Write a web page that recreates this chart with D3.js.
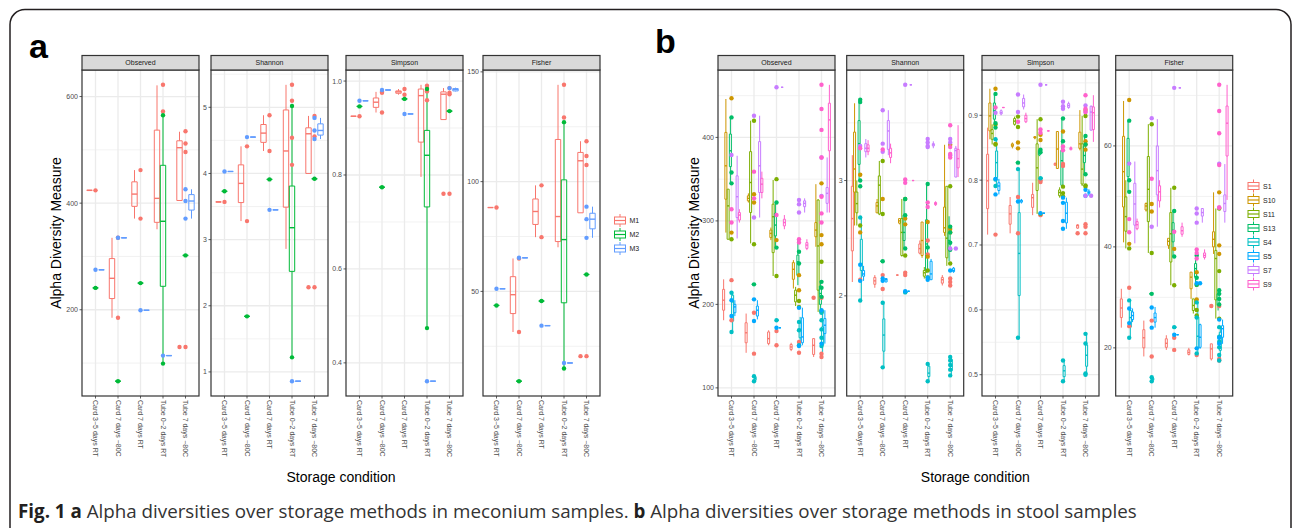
<!DOCTYPE html>
<html>
<head>
<meta charset="utf-8">
<script src="https://cdn.jsdelivr.net/npm/d3@7"></script>
<style>
  body { margin: 0; background: #fff; }
  svg { display: block; }
  text { font-family: "Liberation Sans", Arial, sans-serif; }
</style>
</head>
<body>
<svg id="chart" width="1292" height="528"></svg>
<script>
const categories = ["Card 3\u22125 days RT", "Card 7 days \u221280C", "Card 7 days RT", "Tube 0\u22122 days RT", "Tube 7 days \u221280C"];
const metrics = ["Observed", "Shannon", "Simpson", "Fisher"];

const mecGroups = ["M1", "M2", "M3"];
const mecColors = ["#F8766D", "#00BA38", "#619CFF"];
const stoolGroups = ["S1", "S10", "S11", "S13", "S4", "S5", "S7", "S9"];
const stoolColors = ["#F8766D", "#CD9600", "#7CAE00", "#00BE67", "#00BFC4", "#00A9FF", "#C77CFF", "#FF61CC"];

const mecTicks = [[200, 400, 600], [1, 2, 3, 4, 5], [0.4, 0.6, 0.8, 1.0], [50, 100, 150]];
const stoolTicks = [[100, 200, 300, 400], [2, 3], [0.5, 0.6, 0.7, 0.8, 0.9], [20, 40, 60]];

// box rows: [category, group, lower whisker, q1, median, q3, upper whisker, ...outliers]
// a row with a single value is a group with one sample
// point rows: [category, group, ...values]

// ---- meconium (a)
const mecObservedBox = [
  [0, "M1", 424], [0, "M2", 241], [0, "M3", 275],
  [1, "M1", 185, 221, 259, 296, 335], [1, "M2", 66], [1, "M3", 335],
  [2, "M1", 371, 394, 417, 440, 462], [2, "M2", 250], [2, "M3", 199],
  [3, "M1", 351, 364, 409, 537, 621], [3, "M2", 99, 244, 366, 471, 565], [3, "M3", 114],
  [4, "M1", 405, 405, 504, 517, 534, 130], [4, "M2", 302], [4, "M3", 371, 387, 404, 416, 426]
];
const mecObservedPts = [
  [0, "M1", 424], [0, "M2", 241], [0, "M3", 275],
  [1, "M1", 335, 185], [1, "M2", 66], [1, "M3", 335],
  [2, "M1", 462, 371], [2, "M2", 250], [2, "M3", 199],
  [3, "M1", 622, 572], [3, "M2", 565, 99], [3, "M3", 114],
  [4, "M1", 535, 512, 496, 130], [4, "M2", 302], [4, "M3", 426, 404, 371]
];
const mecShannonBox = [
  [0, "M1", 3.57], [0, "M2", 3.73], [0, "M3", 4.03],
  [1, "M1", 3.28, 3.56, 3.85, 4.13, 4.41], [1, "M2", 1.84], [1, "M3", 4.55],
  [2, "M1", 4.34, 4.47, 4.61, 4.74, 4.88], [2, "M2", 3.91], [2, "M3", 3.45],
  [3, "M1", 2.86, 3.49, 4.34, 4.96, 5.34], [3, "M2", 1.22, 2.52, 3.18, 3.81, 5.02], [3, "M3", 0.86],
  [4, "M1", 4.0, 4.0, 4.60, 4.69, 4.87, 2.28], [4, "M2", 3.92], [4, "M3", 4.52, 4.58, 4.65, 4.75, 4.84]
];
const mecShannonPts = [
  [0, "M1", 3.57], [0, "M2", 3.73], [0, "M3", 4.03],
  [1, "M1", 4.41, 3.28], [1, "M2", 1.84], [1, "M3", 4.55],
  [2, "M1", 4.88, 4.34], [2, "M2", 3.91], [2, "M3", 3.45],
  [3, "M1", 5.34, 5.10, 4.54, 4.13], [3, "M2", 5.02, 1.22], [3, "M3", 0.86],
  [4, "M1", 4.87, 4.56, 2.28], [4, "M2", 3.92], [4, "M3", 4.84, 4.65, 4.52]
];
const mecSimpsonBox = [
  [0, "M1", 0.925], [0, "M2", 0.946], [0, "M3", 0.958],
  [1, "M1", 0.933, 0.944, 0.955, 0.964, 0.977], [1, "M2", 0.774], [1, "M3", 0.981],
  [2, "M1", 0.971, 0.974, 0.977, 0.979, 0.983], [2, "M2", 0.962], [2, "M3", 0.930],
  [3, "M1", 0.796, 0.870, 0.969, 0.983, 0.992], [3, "M2", 0.474, 0.732, 0.842, 0.895, 0.983], [3, "M3", 0.361],
  [4, "M1", 0.918, 0.918, 0.972, 0.977, 0.985, 0.760], [4, "M2", 0.936], [4, "M3", 0.978, 0.979, 0.982, 0.984, 0.986]
];
const mecSimpsonPts = [
  [0, "M1", 0.925], [0, "M2", 0.946], [0, "M3", 0.958],
  [1, "M1", 0.977, 0.975, 0.933], [1, "M2", 0.774], [1, "M3", 0.981],
  [2, "M1", 0.983, 0.971], [2, "M2", 0.962], [2, "M3", 0.930],
  [3, "M1", 0.990, 0.985, 0.978, 0.959], [3, "M2", 0.983, 0.474], [3, "M3", 0.361],
  [4, "M1", 0.985, 0.975, 0.972, 0.760], [4, "M2", 0.936], [4, "M3", 0.985]
];
const mecFisherBox = [
  [0, "M1", 88.2], [0, "M2", 43.6], [0, "M3", 51.2],
  [1, "M1", 31.5, 39.9, 48.5, 56.7, 65.0], [1, "M2", 9.1], [1, "M3", 65.3],
  [2, "M1", 74.7, 80.5, 86.4, 92.1, 98.3], [2, "M2", 45.6], [2, "M3", 34.4],
  [3, "M1", 70.1, 72.7, 84.1, 119.2, 144.1], [3, "M2", 14.9, 44.8, 73.6, 100.8, 127.1], [3, "M3", 17.4],
  [4, "M1", 85.8, 85.8, 109.5, 113.3, 118.4, 20.5], [4, "M2", 57.7], [4, "M3", 74.4, 78.5, 82.9, 85.6, 88.6]
];
const mecFisherPts = [
  [0, "M1", 88.2], [0, "M2", 43.6], [0, "M3", 51.2],
  [1, "M1", 65.0, 31.5], [1, "M2", 9.1], [1, "M3", 65.3],
  [2, "M1", 98.3, 74.7], [2, "M2", 45.6], [2, "M3", 34.4],
  [3, "M1", 144.1, 129.2], [3, "M2", 127.1, 14.9], [3, "M3", 17.4],
  [4, "M1", 118.4, 111.7, 107.6, 20.5], [4, "M2", 57.7], [4, "M3", 88.6, 82.9, 74.4]
];

// ---- stool (b)
const stoolObservedBox = [
  [0, "S1", 181, 193, 205, 218, 230], [0, "S10", 286, 326, 366, 406, 446], [0, "S11", 278, 278, 318, 338, 338],
  [0, "S13", 345, 365, 384, 404, 424], [0, "S4", 167, 180, 203, 211, 215], [0, "S5", 186, 190, 197, 200, 205],
  [0, "S7", 279, 304, 329, 354, 378], [0, "S9", 298, 301, 307, 310, 314],
  [1, "S1", 142, 154, 166, 178, 189], [1, "S10", 322, 324, 327, 330, 333], [1, "S11", 273, 310, 346, 383, 420],
  [1, "S13", 224], [1, "S4", 108, 109, 111, 113, 114], [1, "S5", 182, 186, 193, 198, 205],
  [1, "S7", 304, 334, 366, 395, 426], [1, "S9", 327, 334, 344, 351, 359],
  [2, "S1", 151, 153, 159, 167, 169], [2, "S10", 277, 280, 285, 289, 292], [2, "S11", 234, 262, 305, 320, 349],
  [2, "S13", 268, 282, 295, 309, 322], [2, "S4", 181], [2, "S5", 172], [2, "S7", 460], [2, "S9", 290, 294, 298, 302, 307],
  [3, "S1", 144, 146, 149, 152, 154], [3, "S10", 219, 230, 242, 250, 253], [3, "S11", 198, 203, 211, 217, 221],
  [3, "S13", 223, 235, 251, 259, 277], [3, "S4", 150, 160, 170, 178, 185], [3, "S5", 151, 154, 161, 184, 196],
  [3, "S7", 310, 317, 321, 324, 327], [3, "S9", 265, 267, 271, 274, 278],
  [4, "S1", 137, 140, 151, 159, 159, 208], [4, "S10", 269, 281, 289, 298, 344], [4, "S11", 191, 217, 270, 325, 326],
  [4, "S13", 190, 200, 213, 222, 227], [4, "S4", 143, 151, 159, 173, 191], [4, "S5", 153, 165, 175, 183, 193],
  [4, "S7", 310, 321, 333, 340, 376], [4, "S9", 310, 384, 421, 441, 463]
];
const stoolObservedPts = [
  [0, "S1", 229, 181], [0, "S10", 447, 286], [0, "S11", 278], [0, "S13", 424, 358, 345], [0, "S4", 214, 167],
  [0, "S5", 205, 186], [0, "S7", 379], [0, "S9", 314, 298],
  [1, "S1", 190, 141], [1, "S10", 332, 322], [1, "S11", 420, 272], [1, "S13", 224], [1, "S4", 114, 108],
  [1, "S5", 206, 180], [1, "S7", 426, 304], [1, "S9", 359, 327],
  [2, "S1", 168, 151], [2, "S10", 277], [2, "S11", 350, 234], [2, "S13", 322, 268], [2, "S4", 181],
  [2, "S5", 172], [2, "S7", 460], [2, "S9", 307],
  [3, "S1", 155, 142], [3, "S10", 235, 217], [3, "S11", 204, 197], [3, "S13", 263, 249], [3, "S4", 179, 169, 151],
  [3, "S5", 196, 150], [3, "S7", 325, 320, 310], [3, "S9", 278, 274],
  [4, "S1", 208, 141, 137], [4, "S10", 345, 283, 272], [4, "S11", 251, 191], [4, "S13", 227, 220, 209, 192],
  [4, "S4", 190, 181, 170, 160, 150], [4, "S5", 193, 153], [4, "S7", 376, 330], [4, "S9", 463, 434, 409, 376, 329, 309, 298]
];
const stoolShannonBox = [
  [0, "S1", 2.12, 2.39, 2.67, 2.95, 3.22], [0, "S10", 2.61, 2.90, 3.10, 3.42, 3.67], [0, "S11", 2.61, 2.72, 2.80, 2.90, 3.00],
  [0, "S13", 3.00, 3.14, 3.32, 3.52, 3.70], [0, "S4", 1.96, 2.22, 2.28, 2.49, 2.68], [0, "S5", 2.13, 2.17, 2.19, 2.22, 2.26],
  [0, "S7", 3.20, 3.25, 3.28, 3.32, 3.36], [0, "S9", 3.22, 3.25, 3.28, 3.31, 3.35],
  [1, "S1", 2.07, 2.10, 2.13, 2.16, 2.18], [1, "S10", 2.72, 2.72, 2.78, 2.81, 2.84], [1, "S11", 2.70, 2.71, 2.96, 3.04, 3.17],
  [1, "S13", 2.30], [1, "S4", 1.38, 1.52, 1.66, 1.80, 1.94], [1, "S5", 2.12, 2.12, 2.14, 2.15, 2.15],
  [1, "S7", 3.22, 3.27, 3.43, 3.52, 3.61], [1, "S9", 3.15, 3.20, 3.24, 3.28, 3.32],
  [2, "S1", 2.18], [2, "S10", 2.62, 2.63, 2.65, 2.67, 2.67], [2, "S11", 2.34, 2.35, 2.55, 2.67, 2.84],
  [2, "S13", 2.41, 2.48, 2.55, 2.70, 2.84], [2, "S4", 2.03], [2, "S5", 2.04], [2, "S7", 3.83], [2, "S9", 3.00],
  [3, "S1", 2.36, 2.37, 2.41, 2.45, 2.48], [3, "S10", 2.33, 2.35, 2.48, 2.64, 2.64], [3, "S11", 2.15, 2.17, 2.20, 2.22, 2.25],
  [3, "S13", 2.20, 2.22, 2.45, 2.66, 2.97], [3, "S4", 1.26, 1.30, 1.33, 1.39, 1.41], [3, "S5", 2.14, 2.14, 2.19, 2.30, 2.32],
  [3, "S7", 3.28, 3.30, 3.31, 3.32, 3.34], [3, "S9", 2.78, 2.79, 2.80, 2.81, 2.82],
  [4, "S1", 2.09, 2.11, 2.14, 2.16, 2.18], [4, "S10", 2.52, 2.55, 2.59, 2.77, 3.31], [4, "S11", 2.26, 2.33, 2.50, 2.95, 2.95],
  [4, "S13", 2.30, 2.40, 2.48, 2.55, 2.69], [4, "S4", 1.30, 1.35, 1.39, 1.45, 1.47], [4, "S5", 2.20, 2.21, 2.22, 2.24, 2.25],
  [4, "S7", 3.03, 3.03, 3.26, 3.28, 3.30, 2.41], [4, "S9", 3.03, 3.11, 3.19, 3.27, 3.48]
];
const stoolShannonPts = [
  [0, "S1", 2.14], [0, "S10", 3.05, 2.55], [0, "S11", 2.61], [0, "S13", 3.70, 3.68, 3.00, 2.95], [0, "S4", 2.68, 1.96],
  [0, "S5", 2.27, 2.13], [0, "S7", 3.30], [0, "S9", 3.28],
  [1, "S1", 2.18, 2.06], [1, "S10", 2.84], [1, "S11", 3.17, 2.71], [1, "S13", 2.30], [1, "S4", 1.94, 1.38],
  [1, "S5", 2.15, 2.13], [1, "S7", 3.61, 3.32, 3.25], [1, "S9", 3.27],
  [2, "S1", 2.18, 2.20], [2, "S10", 2.67, 2.62], [2, "S11", 2.84, 2.35], [2, "S13", 2.84, 2.70, 2.41], [2, "S4", 2.03],
  [2, "S5", 2.04], [2, "S7", 3.83], [2, "S9", 3.01, 2.98],
  [3, "S1", 2.48, 2.36], [3, "S10", 2.64, 2.34], [3, "S11", 2.22, 2.16], [3, "S13", 2.97, 2.42], [3, "S4", 1.41, 1.26],
  [3, "S5", 2.16, 2.14], [3, "S7", 3.36, 3.33, 3.30, 3.29], [3, "S9", 2.81, 2.77],
  [4, "S1", 2.15, 2.12, 2.09], [4, "S10", 3.31, 2.58, 2.55], [4, "S11", 2.95, 2.28], [4, "S13", 2.60, 2.55, 2.46, 2.40],
  [4, "S4", 1.47, 1.44, 1.40, 1.36, 1.31], [4, "S5", 2.22], [4, "S7", 3.36, 3.33, 3.22, 2.41], [4, "S9", 3.48, 3.29, 3.23, 3.20]
];
const stoolSimpsonBox = [
  [0, "S1", 0.716, 0.756, 0.799, 0.840, 0.881], [0, "S10", 0.863, 0.876, 0.899, 0.919, 0.941],
  [0, "S11", 0.855, 0.863, 0.872, 0.878, 0.886], [0, "S13", 0.881, 0.894, 0.907, 0.919, 0.933],
  [0, "S4", 0.791, 0.804, 0.827, 0.845, 0.863], [0, "S5", 0.778, 0.784, 0.791, 0.796, 0.802],
  [0, "S7", 0.900, 0.902, 0.904, 0.907, 0.909], [0, "S9", 0.912],
  [1, "S1", 0.718, 0.732, 0.748, 0.761, 0.774], [1, "S10", 0.849, 0.852, 0.854, 0.856, 0.858],
  [1, "S11", 0.884, 0.886, 0.891, 0.895, 0.898], [1, "S13", 0.827],
  [1, "S4", 0.557, 0.622, 0.687, 0.750, 0.817], [1, "S5", 0.764, 0.766, 0.768, 0.769, 0.771],
  [1, "S7", 0.909, 0.913, 0.919, 0.926, 0.932], [1, "S9", 0.888, 0.890, 0.895, 0.900, 0.904],
  [2, "S1", 0.746, 0.758, 0.773, 0.778, 0.796], [2, "S10", 0.863, 0.865, 0.866, 0.867, 0.868],
  [2, "S11", 0.748, 0.784, 0.819, 0.856, 0.894], [2, "S13", 0.837, 0.839, 0.843, 0.846, 0.848],
  [2, "S4", 0.803], [2, "S5", 0.749], [2, "S7", 0.947], [2, "S9", 0.876],
  [3, "S1", 0.822, 0.823, 0.825, 0.826, 0.827], [3, "S10", 0.818, 0.818, 0.848, 0.875, 0.875],
  [3, "S11", 0.773, 0.776, 0.781, 0.785, 0.789], [3, "S13", 0.789, 0.792, 0.830, 0.846, 0.895],
  [3, "S4", 0.490, 0.497, 0.506, 0.514, 0.522], [3, "S5", 0.725, 0.734, 0.749, 0.766, 0.773],
  [3, "S7", 0.910, 0.912, 0.915, 0.918, 0.921], [3, "S9", 0.846, 0.847, 0.849, 0.850, 0.852],
  [4, "S1", 0.725, 0.726, 0.730, 0.731, 0.732, 0.718], [4, "S10", 0.846, 0.849, 0.856, 0.874, 0.908],
  [4, "S11", 0.791, 0.794, 0.817, 0.856, 0.899], [4, "S13", 0.809, 0.827, 0.838, 0.853, 0.868],
  [4, "S4", 0.502, 0.513, 0.530, 0.546, 0.563], [4, "S5", 0.776, 0.779, 0.781, 0.783, 0.786],
  [4, "S7", 0.877, 0.877, 0.905, 0.914, 0.915, 0.776], [4, "S9", 0.859, 0.878, 0.904, 0.913, 0.931]
];
const stoolSimpsonPts = [
  [0, "S1", 0.716], [0, "S10", 0.941, 0.856], [0, "S11", 0.886, 0.855], [0, "S13", 0.933, 0.888, 0.881],
  [0, "S4", 0.863, 0.801, 0.791], [0, "S5", 0.802, 0.778], [0, "S7", 0.904], [0, "S9", 0.912],
  [1, "S1", 0.774, 0.718], [1, "S10", 0.858, 0.849], [1, "S11", 0.898, 0.882], [1, "S13", 0.827],
  [1, "S4", 0.817, 0.557], [1, "S5", 0.767], [1, "S7", 0.932, 0.905], [1, "S9", 0.890],
  [2, "S1", 0.800, 0.797, 0.746], [2, "S10", 0.870, 0.862], [2, "S11", 0.894, 0.748], [2, "S13", 0.847, 0.843],
  [2, "S4", 0.803], [2, "S5", 0.749], [2, "S7", 0.947], [2, "S9", 0.878, 0.873],
  [3, "S1", 0.825, 0.822], [3, "S10", 0.875], [3, "S11", 0.790, 0.780, 0.775], [3, "S13", 0.895, 0.860],
  [3, "S4", 0.522, 0.490], [3, "S5", 0.773, 0.765, 0.737, 0.725], [3, "S7", 0.921, 0.914, 0.910], [3, "S9", 0.852, 0.846],
  [4, "S1", 0.732, 0.728, 0.718], [4, "S10", 0.908, 0.860, 0.855, 0.847], [4, "S11", 0.899, 0.792, 0.790],
  [4, "S13", 0.868, 0.855, 0.809], [4, "S4", 0.563, 0.548, 0.502, 0.500], [4, "S5", 0.785, 0.776],
  [4, "S7", 0.915, 0.905, 0.776], [4, "S9", 0.931, 0.910, 0.905]
];
const stoolFisherBox = [
  [0, "S1", 24.0, 26.0, 27.9, 29.7, 31.7], [0, "S10", 40.9, 47.9, 54.9, 61.9, 68.9], [0, "S11", 39.7, 43.1, 46.0, 49.9, 53.2],
  [0, "S13", 50.9, 53.9, 56.6, 61.5, 65.0], [0, "S4", 22.0, 24.1, 26.0, 27.4, 29.4], [0, "S5", 25.1, 25.6, 26.4, 27.1, 27.8],
  [0, "S7", 40.7, 44.3, 48.5, 52.6, 56.9], [0, "S9", 43.3, 43.6, 44.4, 45.0, 45.6],
  [1, "S1", 18.3, 20.0, 22.0, 23.6, 25.4], [1, "S10", 47.0, 47.3, 48.1, 48.6, 48.8], [1, "S11", 38.8, 45.0, 51.4, 57.9, 64.3],
  [1, "S13", 30.7], [1, "S4", 13.4, 13.6, 13.8, 14.0, 14.2], [1, "S5", 24.0, 25.1, 26.0, 26.9, 28.1],
  [1, "S7", 44.0, 50.3, 55.1, 60.0, 65.3], [1, "S9", 47.8, 49.1, 50.9, 52.1, 53.2],
  [2, "S1", 19.6, 20.1, 20.9, 21.8, 22.5], [2, "S10", 39.6, 40.3, 41.1, 41.7, 41.7], [2, "S11", 32.4, 37.0, 42.6, 46.8, 51.7],
  [2, "S13", 38.1, 41.0, 43.3, 44.8, 47.1], [2, "S4", 24.1], [2, "S5", 22.6], [2, "S7", 71.5], [2, "S9", 42.0, 42.5, 43.2, 44.0, 44.8],
  [3, "S1", 18.5, 18.7, 19.1, 19.6, 20.0], [3, "S10", 29.7, 31.7, 34.0, 35.0, 35.0], [3, "S11", 26.8, 27.4, 28.4, 29.7, 29.7],
  [3, "S13", 32.1, 34.0, 35.7, 36.7, 38.3], [3, "S4", 18.8, 20.1, 22.3, 26.1, 29.1], [3, "S5", 19.8, 20.1, 22.1, 24.6, 24.8, 32.8],
  [3, "S7", 44.8, 46.1, 46.8, 47.6, 47.6], [3, "S9", 37.5, 37.9, 38.3, 38.8, 39.5],
  [4, "S1", 17.5, 17.8, 19.8, 20.8, 20.8, 28.3], [4, "S10", 38.6, 40.0, 41.5, 43.0, 50.8], [4, "S11", 25.8, 29.5, 37.7, 39.3, 47.6],
  [4, "S13", 27.4, 28.4, 29.7, 30.7, 31.4], [4, "S4", 17.5, 19.5, 20.8, 23.1, 24.1], [4, "S5", 20.8, 22.1, 23.8, 24.4, 25.6],
  [4, "S7", 44.8, 47.0, 48.6, 50.3, 56.4], [4, "S9", 49.3, 58.0, 64.5, 67.9, 72.1]
];
const stoolFisherPts = [
  [0, "S1", 31.9, 24.3], [0, "S10", 69.1, 40.6], [0, "S11", 39.7], [0, "S13", 65.0, 53.2, 50.9], [0, "S4", 29.4, 22.0],
  [0, "S5", 27.8, 24.9], [0, "S7", 56.5], [0, "S9", 45.5, 42.9],
  [1, "S1", 25.4, 18.3], [1, "S10", 48.5, 47.0], [1, "S11", 64.3, 38.8], [1, "S13", 30.7], [1, "S4", 14.2, 13.4],
  [1, "S5", 28.0, 24.0], [1, "S7", 65.5, 44.0], [1, "S9", 53.5],
  [2, "S1", 22.0, 19.6], [2, "S10", 39.6], [2, "S11", 51.7, 32.4], [2, "S13", 47.1, 38.1], [2, "S4", 24.1],
  [2, "S5", 22.6], [2, "S7", 71.5], [2, "S9", 43.0],
  [3, "S1", 18.6], [3, "S10", 35.0, 32.5, 29.6], [3, "S11", 27.5, 26.4], [3, "S13", 38.3, 33.9, 32.5], [3, "S4", 29.0, 26.0, 18.9],
  [3, "S5", 32.8, 19.9], [3, "S7", 47.6, 46.6, 44.8], [3, "S9", 39.5, 38.8, 37.7],
  [4, "S1", 28.3, 17.8, 17.5], [4, "S10", 50.8, 40.3, 38.6], [4, "S11", 47.6, 35.2, 25.8], [4, "S13", 31.4, 30.7, 29.7, 28.6],
  [4, "S4", 24.1, 22.2, 21.2, 20.1, 18.6, 17.5], [4, "S5", 25.6, 22.0, 20.8], [4, "S7", 56.5, 47.8], [4, "S9", 72.1, 66.9, 62.5, 56.2, 47.8]
];

const svg = d3.select("#chart");

const panelTop = 70, panelBottom = 396, panelW = 117, stripH = 14.5;

// outer frame of the figure
svg.append("rect")
  .attr("x", 10).attr("y", 9.5)
  .attr("width", 1281).attr("height", 580)
  .attr("rx", 15)
  .attr("fill", "none")
  .attr("stroke", "#231f20")
  .attr("stroke-width", 1.5);

function boxStats(row) {
  const v = row.slice(2);
  if (v.length === 1) return { s: [v[0], v[0], v[0], v[0], v[0]], out: [] };
  return { s: v.slice(0, 5), out: v.slice(5) };
}

function drawFacet(left, name, boxes, pts, groups, colors, ticks) {
  const all = boxes.flatMap(r => r.slice(2)).concat(pts.flatMap(r => r.slice(2)));
  const [mn, mx] = d3.extent(all);
  const pad = (mx - mn) * 0.05;
  const y = d3.scaleLinear().domain([mn - pad, mx + pad]).range([panelBottom, panelTop]);
  const x = d3.scaleLinear().domain([-0.6, 4.6]).range([left, left + panelW]);
  const unit = panelW / 5.2;
  const dodge = d3.scaleBand().domain(groups).range([-0.4 * unit, 0.4 * unit]);
  const color = d3.scaleOrdinal(groups, colors);
  const fmt = ticks.some(t => !Number.isInteger(t)) ? d3.format(".1f") : d3.format("d");

  const g = svg.append("g");

  // grid
  const step = ticks[1] - ticks[0];
  const minor = [ticks[0] - step / 2].concat(ticks.map(t => t + step / 2))
    .filter(v => v > y.domain()[0] && v < y.domain()[1]);
  g.selectAll(".minor").data(minor).enter().append("line")
    .attr("x1", left).attr("x2", left + panelW)
    .attr("y1", d => y(d)).attr("y2", d => y(d))
    .attr("stroke", "#ededed").attr("stroke-width", 0.7);
  g.selectAll(".major").data(ticks).enter().append("line")
    .attr("x1", left).attr("x2", left + panelW)
    .attr("y1", d => y(d)).attr("y2", d => y(d))
    .attr("stroke", "#ebebeb").attr("stroke-width", 1.3);
  g.selectAll(".vgrid").data(categories).enter().append("line")
    .attr("x1", (d, i) => x(i)).attr("x2", (d, i) => x(i))
    .attr("y1", panelTop).attr("y2", panelBottom)
    .attr("stroke", "#ebebeb").attr("stroke-width", 1.3);

  // boxes
  const bw = dodge.bandwidth(), boxW = bw * 0.9;
  boxes.forEach(row => {
    const { s, out } = boxStats(row);
    const c = color(row[1]);
    const cx = x(row[0]) + dodge(row[1]) + bw / 2;
    const x0 = cx - boxW / 2, x1 = cx + boxW / 2;
    const bg = g.append("g").attr("stroke", c).attr("fill", "none");
    bg.append("line").attr("x1", cx).attr("x2", cx).attr("y1", y(s[4])).attr("y2", y(s[3])).attr("stroke-width", 1);
    bg.append("line").attr("x1", cx).attr("x2", cx).attr("y1", y(s[1])).attr("y2", y(s[0])).attr("stroke-width", 1);
    bg.append("path")
      .attr("d", `M${x0},${y(s[3])}H${x1}V${y(s[1])}H${x0}Z`)
      .attr("stroke-width", 1);
    bg.append("line").attr("x1", x0).attr("x2", x1).attr("y1", y(s[2])).attr("y2", y(s[2])).attr("stroke-width", 1.4);
    out.forEach(o => {
      g.append("circle").attr("cx", cx).attr("cy", y(o)).attr("r", 2.2).attr("fill", c);
    });
  });

  // points
  pts.forEach(row => {
    row.slice(2).forEach(v => {
      g.append("circle")
        .attr("cx", x(row[0])).attr("cy", y(v))
        .attr("r", 2.2)
        .attr("fill", color(row[1]));
    });
  });

  // panel border and strip
  g.append("rect")
    .attr("x", left).attr("y", panelTop)
    .attr("width", panelW).attr("height", panelBottom - panelTop)
    .attr("fill", "none").attr("stroke", "#333").attr("stroke-width", 1.2);
  g.append("rect")
    .attr("x", left).attr("y", panelTop - stripH)
    .attr("width", panelW).attr("height", stripH)
    .attr("fill", "#d9d9d9").attr("stroke", "#333").attr("stroke-width", 1.2);
  g.append("text")
    .attr("x", left + panelW / 2).attr("y", panelTop - stripH / 2)
    .attr("text-anchor", "middle").attr("dominant-baseline", "central")
    .style("font-size", "7px").attr("fill", "#1a1a1a")
    .text(name);

  // y axis
  g.selectAll(".ytick").data(ticks).enter().append("line")
    .attr("x1", left - 2.5).attr("x2", left)
    .attr("y1", d => y(d)).attr("y2", d => y(d))
    .attr("stroke", "#333").attr("stroke-width", 0.8);
  g.selectAll(".ylab").data(ticks).enter().append("text")
    .attr("x", left - 4).attr("y", d => y(d))
    .attr("text-anchor", "end").attr("dominant-baseline", "central")
    .style("font-size", "7px").attr("fill", "#4d4d4d")
    .text(d => fmt(d));

  // x axis
  g.selectAll(".xtick").data(categories).enter().append("line")
    .attr("x1", (d, i) => x(i)).attr("x2", (d, i) => x(i))
    .attr("y1", panelBottom).attr("y2", panelBottom + 2.5)
    .attr("stroke", "#333").attr("stroke-width", 0.8);
  g.selectAll(".xlab").data(categories).enter().append("text")
    .attr("transform", (d, i) => `translate(${x(i)},${panelBottom + 4}) rotate(90)`)
    .attr("dominant-baseline", "central")
    .style("font-size", "7px").attr("fill", "#4d4d4d")
    .text(d => d);
}

function drawLegend(x0, y0, groups, colors) {
  const lg = svg.append("g").attr("transform", `translate(${x0},${y0})`);
  const items = lg.selectAll("g").data(groups).enter().append("g")
    .attr("transform", (d, i) => `translate(0,${i * 14})`);
  items.append("line")
    .attr("x1", 5.5).attr("x2", 5.5).attr("y1", -6.5).attr("y2", 6.5)
    .attr("stroke", (d, i) => colors[i]).attr("stroke-width", 1);
  items.append("rect")
    .attr("x", 0).attr("y", -3.5).attr("width", 11).attr("height", 7)
    .attr("fill", "#fff").attr("stroke", (d, i) => colors[i]).attr("stroke-width", 1);
  items.append("line")
    .attr("x1", 0).attr("x2", 11).attr("y1", 0).attr("y2", 0)
    .attr("stroke", (d, i) => colors[i]).attr("stroke-width", 1.2);
  items.append("text")
    .attr("x", 15).attr("y", 0)
    .attr("dominant-baseline", "central")
    .style("font-size", "7px").attr("fill", "#1a1a1a")
    .text(d => d);
}

function drawFigure(label, labelX, labelY, lefts, boxSets, ptSets, groups, colors, ticks, titleX, legendX, legendY) {
  metrics.forEach((m, i) => drawFacet(lefts[i], m, boxSets[i], ptSets[i], groups, colors, ticks[i]));

  svg.append("text")
    .attr("x", labelX).attr("y", labelY)
    .style("font-size", "34px").style("font-weight", "bold").attr("fill", "#000")
    .text(label);

  svg.append("text")
    .attr("transform", `translate(${titleX},${(panelTop + panelBottom) / 2}) rotate(-90)`)
    .attr("text-anchor", "middle").attr("dominant-baseline", "central")
    .style("font-size", "14px").attr("fill", "#000")
    .text("Alpha Diversity Measure");

  svg.append("text")
    .attr("x", (lefts[0] + lefts[3] + panelW) / 2).attr("y", 482)
    .attr("text-anchor", "middle")
    .style("font-size", "14px").attr("fill", "#000")
    .text("Storage condition");

  drawLegend(legendX, legendY, groups, colors);
}

drawFigure("a", 29, 58, [82, 211, 346, 483],
  [mecObservedBox, mecShannonBox, mecSimpsonBox, mecFisherBox],
  [mecObservedPts, mecShannonPts, mecSimpsonPts, mecFisherPts],
  mecGroups, mecColors, mecTicks, 55.5, 614.5, 220.5);

drawFigure("b", 655, 53, [718, 846.7, 982, 1115.7],
  [stoolObservedBox, stoolShannonBox, stoolSimpsonBox, stoolFisherBox],
  [stoolObservedPts, stoolShannonPts, stoolSimpsonPts, stoolFisherPts],
  stoolGroups, stoolColors, stoolTicks, 693.5, 1248, 186);

// caption
const caption = svg.append("text")
  .attr("x", 18).attr("y", 518)
  .style("font-family", "'Open Sans', 'Noto Sans', sans-serif")
  .style("font-size", "18px")
  .attr("fill", "#231f20");
caption.append("tspan").style("font-weight", "bold").text("Fig. 1 a ");
caption.append("tspan").attr("fill", "#333").text("Alpha diversities over storage methods in meconium samples. ");
caption.append("tspan").style("font-weight", "bold").text("b ");
caption.append("tspan").attr("fill", "#333").text("Alpha diversities over storage methods in stool samples");
const capW = caption.node().getComputedTextLength();
caption.style("font-size", (18 * 1119 / capW).toFixed(2) + "px");
</script>
</body>
</html>
